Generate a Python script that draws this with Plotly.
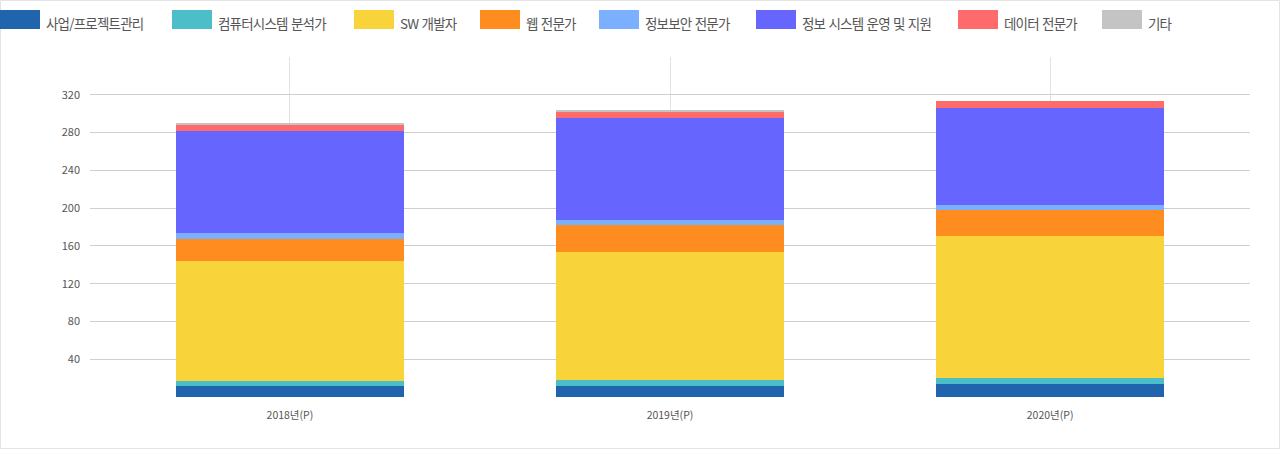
import plotly.graph_objects as go

# ---- data ----
years = ["2018년(P)", "2019년(P)", "2020년(P)"]
series_names = ["사업/프로젝트관리", "컴퓨터시스템 분석가", "SW 개발자", "웹 전문가",
                "정보보안 전문가", "정보 시스템 운영 및 지원", "데이터 전문가", "기타"]
pm_values = [12, 12, 14]
analyst_values = [4.5, 6, 6.5]
sw_values = [127, 136, 150]
web_values = [24, 28.5, 28]
security_values = [6, 4.5, 5]
ops_values = [108, 108, 103]
data_values = [6.5, 7.5, 7]
etc_values = [2, 1, 0]
ytick_vals = [0, 40, 80, 120, 160, 200, 240, 280, 320, 360]
ytick_text = ["", "40", "80", "120", "160", "200", "240", "280", "320", ""]

# ---- styles ----
colors = ["#2064AD", "#4BBECA", "#F8D33A", "#FF8C1F", "#7BAFFF", "#6666FF", "#FF6B6B", "#C4C4C4"]
all_values = [pm_values, analyst_values, sw_values, web_values,
              security_values, ops_values, data_values, etc_values]

W, H = 1280, 450
ML, MR, MT, MB = 90, 30, 57, 53
PW, PH = W - ML - MR, H - MT - MB
FONT = "Noto Sans CJK KR"

fig = go.Figure()
for name, vals, col in zip(series_names, all_values, colors):
    fig.add_trace(go.Bar(x=years, y=vals, name=name, marker=dict(color=col, line=dict(width=0)),
                         showlegend=False, width=0.6))

def px_x(px):
    return (px - ML) / PW

def px_y(py):
    return (H - MB - py) / PH

# custom legend (swatch 40x19 + label)
legend_x = [0, 172, 354, 480, 599, 756, 958, 1102]
shapes = []
annotations = []
for lx, name, col in zip(legend_x, series_names, colors):
    shapes.append(dict(type="rect", xref="paper", yref="paper",
                       x0=px_x(lx), x1=px_x(lx + 40), y0=px_y(29), y1=px_y(10),
                       fillcolor=col, line=dict(width=0)))
    annotations.append(dict(xref="paper", yref="paper", x=px_x(lx + 44), y=px_y(23),
                            xanchor="left", yanchor="middle", showarrow=False,
                            text='<span style="letter-spacing:-0.8px;word-spacing:1px">' + name + '</span>',
                            font=dict(family=FONT, size=13.5, color="#555555")))

# outer frame
shapes.append(dict(type="rect", xref="paper", yref="paper",
                   x0=px_x(0.5), x1=px_x(W - 0.5), y0=px_y(H - 1.5), y1=px_y(0.5),
                   line=dict(color="#E3E3E3", width=1), fillcolor="rgba(0,0,0,0)", layer="below"))

fig.update_layout(
    barmode="stack",
    width=W, height=H,
    margin=dict(l=ML, r=MR, t=MT, b=MB, pad=0),
    paper_bgcolor="white", plot_bgcolor="white",
    font=dict(family=FONT, color="#555555"),
    shapes=shapes, annotations=annotations,
    xaxis=dict(type="category", range=[-0.526, 2.526], showgrid=True, gridcolor="#E2E2E2",
               gridwidth=1, showline=False, zeroline=False, ticks="",
               tickfont=dict(family=FONT, size=10.5, color="#555555"), ticklabelstandoff=10,
               fixedrange=True),
    yaxis=dict(range=[0, 360], tickvals=ytick_vals, ticktext=ytick_text, showgrid=True,
               gridcolor="#CFCFCF", gridwidth=1, zeroline=False, showline=False, ticks="",
               tickfont=dict(family=FONT, size=11, color="#555555"), ticklabelstandoff=9,
               fixedrange=True),
    bargap=0.4,
)

fig.write_html("out.html", config={"displayModeBar": False},
               post_script="document.body.style.margin='0px';document.body.style.overflow='hidden';")
